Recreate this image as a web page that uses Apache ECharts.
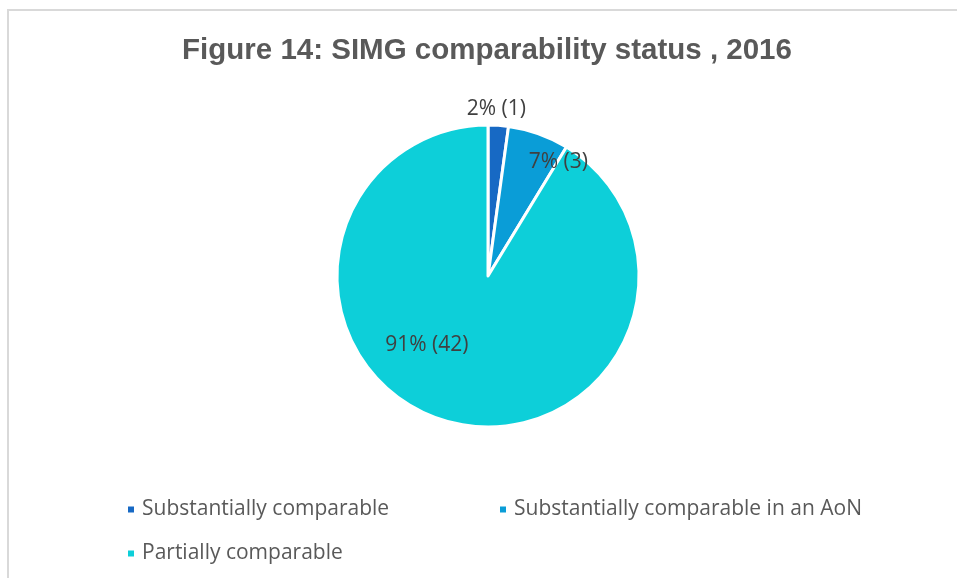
<!DOCTYPE html>
<html>
<head>
<meta charset="utf-8">
<script src="https://cdn.jsdelivr.net/npm/echarts@6/dist/echarts.min.js"></script>
<style>
  html, body { margin: 0; padding: 0; background: #ffffff; }
  #frame { position: absolute; left: 7px; top: 9px; width: 960px; height: 580px;
           border-top: 2px solid #d9d9d9; border-left: 2px solid #d9d9d9; box-sizing: border-box; }
  #chart { position: absolute; left: 0; top: 0; width: 957px; height: 578px; }
</style>
</head>
<body>
<div id="frame"></div>
<div id="chart"></div>
<script>
const titleText = 'Figure 14: SIMG comparability status , 2016';
const categories = ['Substantially comparable', 'Substantially comparable in an AoN', 'Partially comparable'];
const counts = [1, 3, 42];
const percentLabels = ['2%', '7%', '91%'];
const colors = ['#1769C4', '#0A9DD7', '#0DCFD9'];
const labelOffsets = [[3, -89], [44, -40], [-40, -7]];

const chart = echarts.init(document.getElementById('chart'), null, { renderer: 'canvas' });

const pieData = categories.map((name, i) => ({
  name: name,
  value: counts[i],
  itemStyle: { color: colors[i] },
  label: { offset: labelOffsets[i] }
}));

const legendBase = {
  icon: 'rect',
  itemWidth: 8,
  itemHeight: 8,
  padding: 0,
  selectedMode: false,
  textStyle: { fontFamily: 'Open Sans', fontSize: 21, color: '#595959', padding: [0, 0, 0, 2] }
};

chart.setOption({
  backgroundColor: 'transparent',
  animation: false,
  title: {
    text: titleText,
    left: 482,
    textAlign: 'center',
    top: 31,
    textStyle: { fontFamily: 'Liberation Sans', fontWeight: 'bold', fontSize: 29.5, color: '#595959' }
  },
  legend: [
    Object.assign({}, legendBase, { data: [categories[0]], left: 126, top: 499 }),
    Object.assign({}, legendBase, { data: [categories[1]], left: 498, top: 499 }),
    Object.assign({}, legendBase, { data: [categories[2]], left: 126, top: 543 })
  ],
  series: [{
    type: 'pie',
    center: [488, 276],
    radius: [0, 151],
    startAngle: 90,
    clockwise: true,
    avoidLabelOverlap: false,
    itemStyle: { borderColor: '#ffffff', borderWidth: 3 },
    label: {
      show: true,
      position: 'inside',
      fontFamily: 'Open Sans',
      fontSize: 21,
      color: '#404040',
      formatter: p => percentLabels[p.dataIndex] + ' (' + p.value + ')'
    },
    labelLine: { show: false },
    emphasis: { disabled: true },
    data: pieData
  }]
});
</script>
</body>
</html>
